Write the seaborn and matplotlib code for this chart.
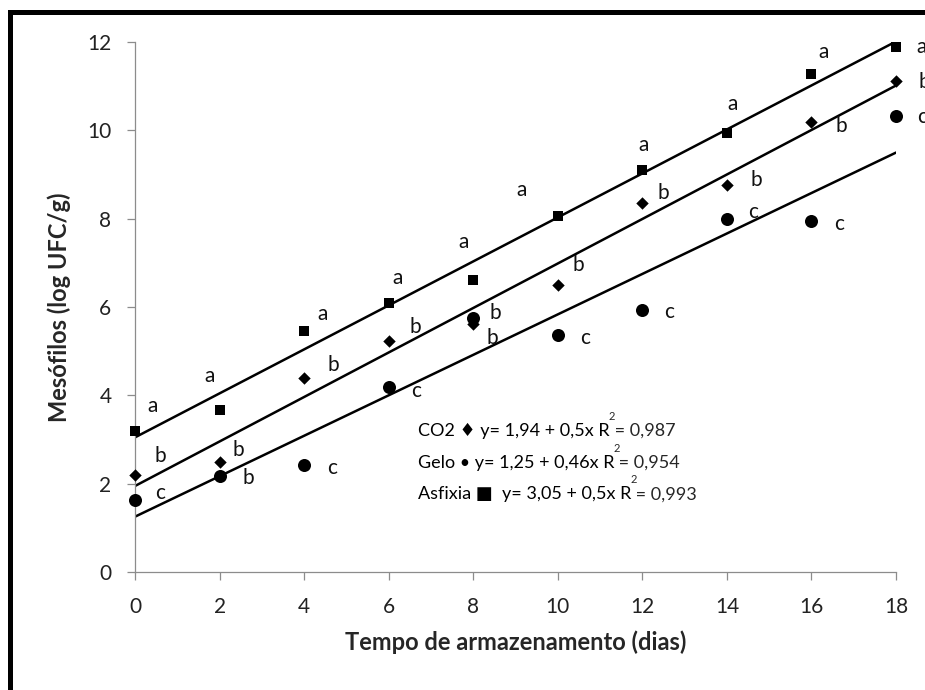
import pandas as pd
import matplotlib
matplotlib.use("Agg")
import matplotlib.pyplot as plt
import seaborn as sns
from matplotlib.patches import Rectangle

# dados
dias = [0, 2, 4, 6, 8, 10, 12, 14, 16, 18]
asfixia = [3.20, 3.68, 5.45, 6.09, 6.61, 8.07, 9.11, 9.95, 11.27, 11.89]
co2 = [2.20, 2.48, 4.39, 5.23, 5.61, 6.50, 8.36, 8.77, 10.18, 11.11]
gelo = [1.64, 2.18, 2.43, 4.20, 5.75, 5.36, 5.93, 8.00, 7.95, 10.32]

letras_asfixia = ["a"] * 10
letras_co2 = ["b"] * 10
letras_gelo = ["c", "b", "c", "c", "b", "c", "c", "c", "c", "c"]

equacoes = [
    ("CO2 \u2666 y= 1,94 + 0,5x R", "2", " = 0,987"),
    ("Gelo \u2022 y= 1,25 + 0,46x R", "2", " = 0,954"),
    ("Asfixia \u25a0  y= 3,05 + 0,5x R", "2", " = 0,993"),
]

# deslocamento das letras (pixels) em relacao ao ponto
desl_asfixia = [(18, 25), (-10, 34), (18, 17), (9, 25), (-10, 38),
                (-36, 26), (1, 25), (6, 29), (12, 22), (26, 0)]
desl_co2 = [(25, 19), (19, 12), (29, 13), (27, 14), (19, -14),
            (20, 20), (21, 10), (29, 5), (30, -4), (28, -1)]
desl_gelo = [(25, 7), (29, -2), (28, -3), (27, -4), (22, 5),
             (27, -3), (27, -2), (26, 7), (28, -3), (26, -1)]

sns.set_style("ticks")
plt.rcParams["font.family"] = ["Lato", "DejaVu Sans"]

df = pd.DataFrame({
    "dias": dias * 3,
    "mesofilos": asfixia + co2 + gelo,
    "tratamento": ["Asfixia"] * 10 + ["CO2"] * 10 + ["Gelo"] * 10,
})

fig = plt.figure(figsize=(9.25, 6.9), dpi=100)
ax = fig.add_axes([0.146, 0.171, 0.8227, 0.768])

series = [
    ("Asfixia", "s", 52, letras_asfixia, desl_asfixia),
    ("CO2", "D", 40, letras_co2, desl_co2),
    ("Gelo", "o", 88, letras_gelo, desl_gelo),
]

for nome, marc, tam, letras, desl in series:
    sub = df[df["tratamento"] == nome]
    sns.regplot(data=sub, x="dias", y="mesofilos", ax=ax, ci=None,
                marker=marc, color="black",
                scatter_kws={"s": tam, "clip_on": False, "zorder": 4,
                             "linewidths": 0, "alpha": 1},
                line_kws={"lw": 1.8, "color": "black"})
    for xi, yi, let, (dx, dy) in zip(sub["dias"], sub["mesofilos"], letras, desl):
        ax.annotate(let, (xi, yi), xytext=(dx, dy), textcoords="offset pixels",
                    ha="center", va="center", fontsize=15, color="#111111",
                    annotation_clip=False)

# equacoes
ys = [3.2, 2.47, 1.76]
for (ini, sup, fim), yy in zip(equacoes, ys):
    t1 = ax.text(6.69, yy, ini, fontsize=13, ha="left", va="center", color="black")
    ax.annotate(sup, xy=(1, 1), xycoords=t1, xytext=(-1, 1),
                textcoords="offset pixels", fontsize=8, ha="left", va="bottom")
    ax.annotate(fim, xy=(1, 0), xycoords=t1, fontsize=13, ha="left", va="bottom")

ax.set_xlim(0, 18)
ax.set_ylim(0, 12)
ax.set_xticks(range(0, 19, 2))
ax.set_yticks(range(0, 13, 2))
sns.despine(ax=ax)
for s in ["left", "bottom"]:
    ax.spines[s].set_color("#8c8c8c")
    ax.spines[s].set_linewidth(0.9)
ax.tick_params(axis="both", colors="#8c8c8c", labelcolor="#222222",
               length=6, width=0.9, labelsize=15)
ax.tick_params(axis="y", pad=11)
ax.tick_params(axis="x", pad=12)

ax.set_xlabel("Tempo de armazenamento (dias)", fontsize=17, fontweight="bold", labelpad=10)
ax.set_ylabel("Mes\u00f3filos (log UFC/g)", fontsize=17, fontweight="bold", labelpad=12)

# moldura preta (esquerda e topo)
fig.add_artist(Rectangle((0.0103, -0.5), 2.0, 0.982 + 0.5, transform=fig.transFigure,
                         fill=False, ec="black", lw=3.6, clip_on=False))

fig.savefig("out.png", dpi=100, facecolor="white")
